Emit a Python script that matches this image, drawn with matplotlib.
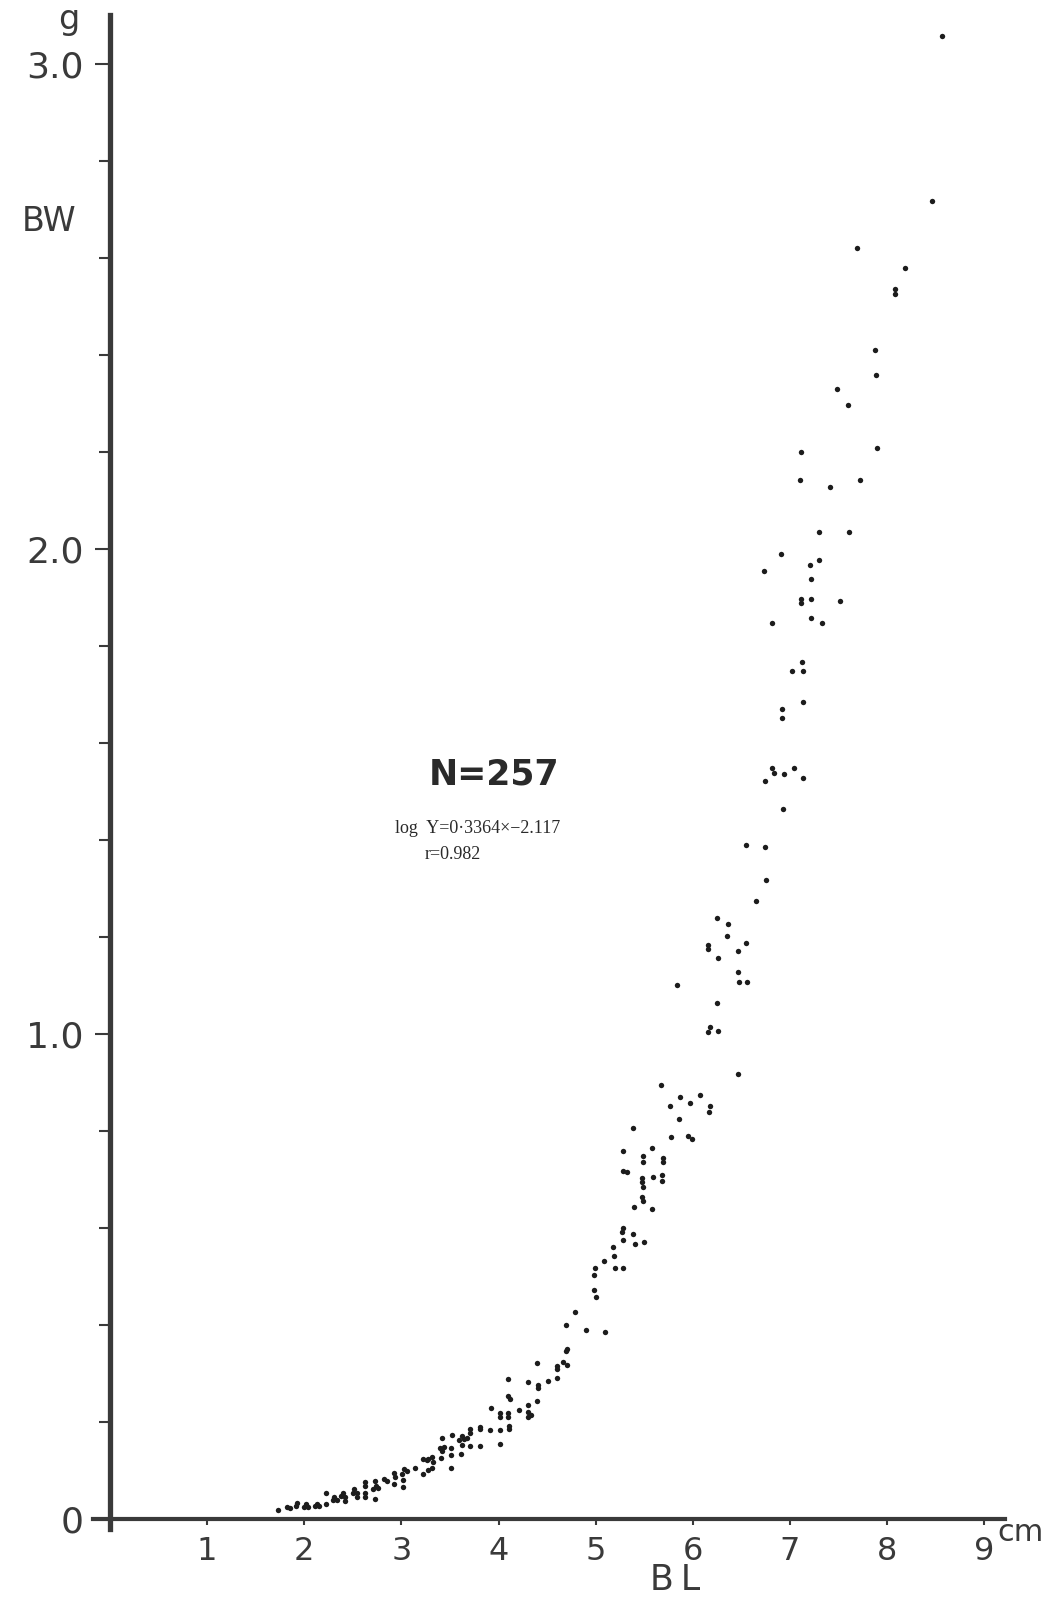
import matplotlib
matplotlib.use("Agg")
import matplotlib.pyplot as plt
from matplotlib.ticker import MultipleLocator, FixedLocator


############
# data
############
bl = [8.56, 8.46, 7.69, 8.18, 8.08, 8.08, 7.88, 7.89, 7.48,
      7.60, 7.11, 7.90, 7.10, 7.72, 7.41, 7.30, 7.61, 6.91, 7.21, 7.30, 6.73, 7.22,
      7.11, 7.11, 7.22, 7.51, 6.81, 7.22, 7.33, 7.12, 7.02, 7.13, 7.13, 6.92, 6.92,
      6.82, 6.84, 6.94, 7.04, 7.13, 6.74, 6.93, 6.55, 6.74, 6.75, 6.65, 6.25, 6.36,
      6.35, 6.16, 6.16, 6.55, 6.47, 6.26, 6.47, 6.48, 6.56, 6.25, 6.18, 6.16, 6.26, 5.84,
      6.47, 5.67, 5.87, 6.07, 5.77, 5.97, 6.18, 6.17, 5.86, 5.38, 5.78, 5.95, 5.99,
      5.28, 5.58, 5.49, 5.49, 5.69, 5.69, 5.28, 5.32, 5.48, 5.48, 5.59, 5.68, 5.68,
      5.49, 5.48, 5.49, 5.39, 5.58, 5.28, 5.27, 5.38, 5.28, 5.40, 5.50, 5.18, 5.19,
      5.09, 4.99, 5.20, 5.28,
      4.98, 4.98, 5.00, 4.79, 4.69, 4.90, 5.10, 4.70,
      4.69, 4.66, 4.70, 4.40, 4.60, 4.60, 4.10, 4.30, 4.51, 4.60, 4.41, 4.41, 4.10,
      4.12, 4.40, 3.92, 4.30, 4.21, 4.01, 4.01, 4.10, 4.10, 4.30, 4.33, 4.30, 3.81,
      3.81, 3.91, 4.01, 4.11, 4.11, 3.71, 3.42, 3.52, 3.62, 3.59, 3.64, 3.68, 3.71,
      3.62, 3.71, 3.81, 4.01, 3.40, 3.44, 3.51, 3.51, 3.61, 3.41, 3.22, 3.27,
      3.42, 3.51, 3.26, 3.32, 3.33, 3.32, 3.22, 3.14, 3.27, 3.03, 3.06, 3.01, 3.02,
      3.02, 2.92, 2.93, 2.92, 2.82, 2.85, 2.73, 2.74, 2.71, 2.76, 2.73, 2.63, 2.63,
      2.63, 2.63, 2.51, 2.54, 2.50, 2.54, 2.40, 2.42, 2.38, 2.42, 2.31, 2.34, 2.30,
      2.22, 2.22, 2.13, 2.15, 2.11, 2.02, 2.04, 2.00, 1.93, 1.92, 1.82, 1.85, 1.73]

bw = [3.056, 2.717, 2.620, 2.578, 2.535, 2.524, 2.409, 2.358, 2.330,
      2.296, 2.199, 2.208, 2.141, 2.141, 2.127, 2.034, 2.034, 1.988, 1.967, 1.976, 1.954, 1.938,
      1.897, 1.888, 1.897, 1.893, 1.846, 1.857, 1.846, 1.767, 1.747, 1.748, 1.684, 1.670, 1.651,
      1.548, 1.537, 1.535, 1.548, 1.528, 1.522, 1.463, 1.389, 1.385, 1.318, 1.273, 1.238, 1.227,
      1.202, 1.183, 1.174, 1.187, 1.171, 1.156, 1.127, 1.106, 1.106, 1.063, 1.013, 1.004, 1.006, 1.100,
      0.918, 0.894, 0.870, 0.874, 0.852, 0.857, 0.852, 0.838, 0.824, 0.806, 0.788, 0.790, 0.784,
      0.758, 0.765, 0.748, 0.735, 0.744, 0.736, 0.718, 0.716, 0.702, 0.695, 0.705, 0.709, 0.696,
      0.684, 0.663, 0.656, 0.643, 0.638, 0.599, 0.592, 0.587, 0.575, 0.566, 0.570, 0.561, 0.543,
      0.531, 0.517, 0.517, 0.517,
      0.502, 0.472, 0.457, 0.426, 0.400, 0.389, 0.385, 0.350,
      0.346, 0.324, 0.318, 0.321, 0.315, 0.309, 0.288, 0.283, 0.285, 0.291, 0.276, 0.269, 0.253,
      0.248, 0.243, 0.229, 0.235, 0.225, 0.218, 0.211, 0.218, 0.211, 0.221, 0.214, 0.211, 0.190,
      0.185, 0.184, 0.183, 0.192, 0.186, 0.186, 0.167, 0.173, 0.170, 0.163, 0.165, 0.167, 0.177,
      0.152, 0.151, 0.151, 0.155, 0.146, 0.149, 0.146, 0.132, 0.134, 0.126, 0.124, 0.124,
      0.141, 0.106, 0.122, 0.127, 0.117, 0.105, 0.093, 0.105, 0.100, 0.103, 0.098, 0.093, 0.080,
      0.066, 0.094, 0.087, 0.073, 0.083, 0.078, 0.078, 0.068, 0.061, 0.064, 0.041, 0.076, 0.068,
      0.053, 0.045, 0.061, 0.053, 0.053, 0.046, 0.053, 0.045, 0.048, 0.036, 0.046, 0.040, 0.040,
      0.053, 0.031, 0.031, 0.026, 0.026, 0.031, 0.025, 0.024, 0.033, 0.026, 0.025, 0.023, 0.019]

x_ticks = [1, 2, 3, 4, 5, 6, 7, 8, 9]
y_major = [0, 1.0, 2.0, 3.0]
y_labels = ["0", "1.0", "2.0", "3.0"]

n_label = "N=257"
fit_label = "log  Y=0·3364×−2.117"
r_label = "r=0.982"


############
# figure
############
ink = "#3a3a3a"
fig = plt.figure(figsize=(10.62, 15.97), dpi=100)
ax = fig.add_axes([0.088, 0.0428, 0.858, 0.9478])

ax.scatter(bl, bw, s=15, color="#1c1c1c", linewidths=0, zorder=3)

ax.set_xlim(-0.17, 9.21)
ax.set_ylim(-0.02, 3.10)

ax.spines["left"].set_position(("data", 0))
ax.spines["bottom"].set_position(("data", 0))
ax.spines["top"].set_visible(False)
ax.spines["right"].set_visible(False)
ax.spines["left"].set_linewidth(3.8)
ax.spines["bottom"].set_linewidth(3.0)
ax.spines["left"].set_color(ink)
ax.spines["bottom"].set_color(ink)

ax.xaxis.set_major_locator(FixedLocator(x_ticks))
ax.set_xticklabels([str(t) for t in x_ticks])
ax.yaxis.set_major_locator(FixedLocator(y_major))
ax.yaxis.set_minor_locator(MultipleLocator(0.2))
ax.set_yticklabels(y_labels)

ax.tick_params(axis="x", direction="out", length=4, width=1.5, color=ink,
               labelsize=23, labelcolor=ink, pad=8)
ax.tick_params(axis="y", which="major", direction="out", length=11, width=1.5,
               color=ink, labelsize=26, labelcolor=ink, pad=8)
ax.tick_params(axis="y", which="minor", direction="out", length=8, width=1.5, color=ink)

# axis names and units
ax.text(9.13, -0.027, "cm", fontsize=22, color=ink, ha="left", va="center")
ax.text(5.82, -0.147, "B\u2009L", fontsize=25, color=ink, ha="center", va="baseline")
fig.text(0.046, 0.861, "BW", fontsize=24, color=ink, ha="center", va="center")
fig.text(0.065, 0.988, "g", fontsize=24, color=ink, ha="center", va="center")

# annotations
ax.text(3.95, 1.535, n_label, fontsize=25, fontweight="bold", color="#2a2a2a",
        ha="center", va="center")
ax.text(3.78, 1.424, fit_label, fontsize=13, family="Liberation Serif",
        color="#2a2a2a", ha="center", va="center")
ax.text(3.53, 1.370, r_label, fontsize=13, family="Liberation Serif",
        color="#2a2a2a", ha="center", va="center")

fig.savefig("out.png", dpi=100, facecolor="white")
